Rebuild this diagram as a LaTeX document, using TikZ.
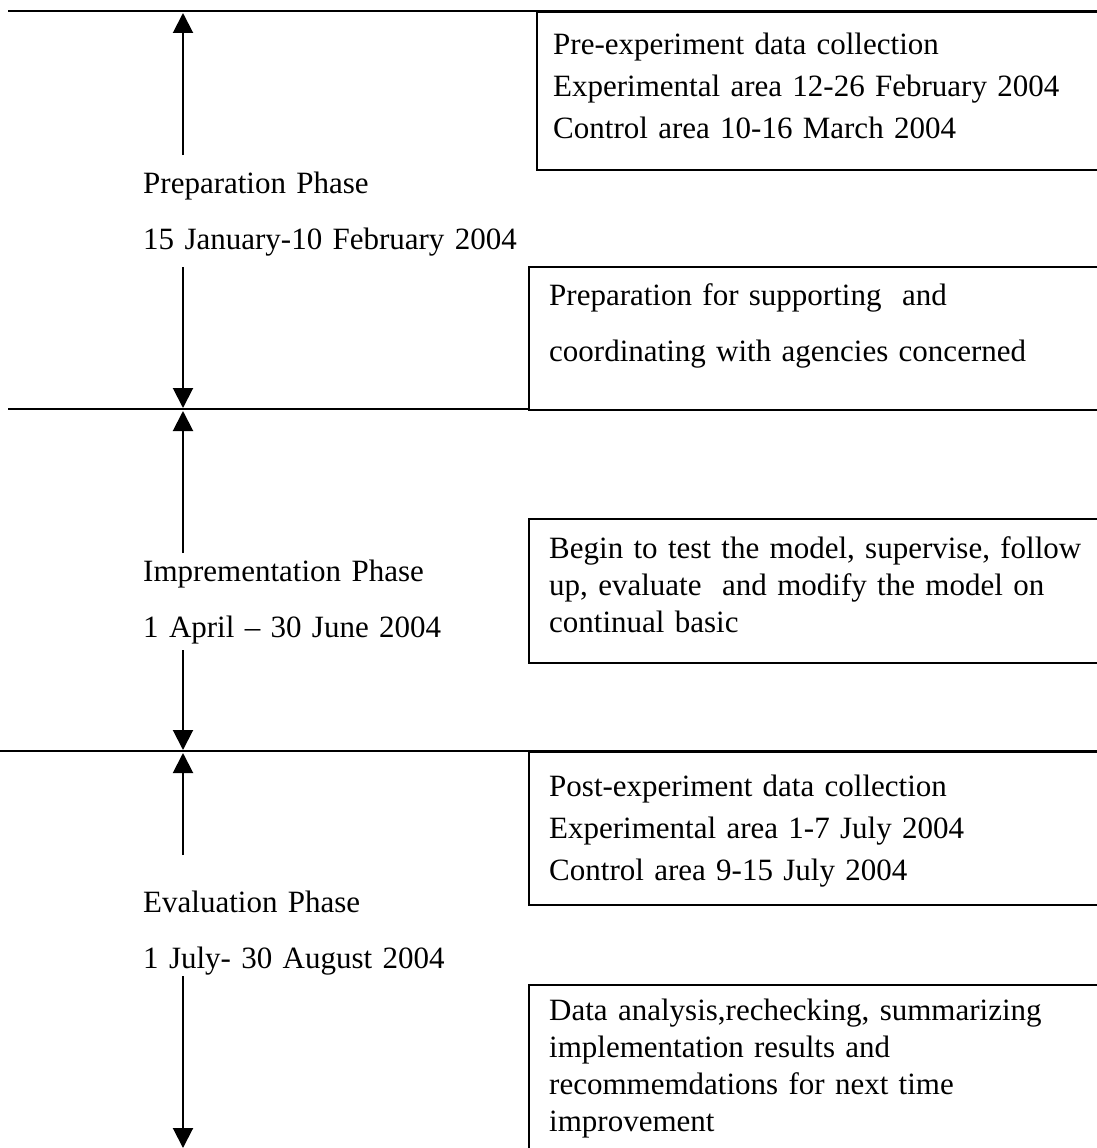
\documentclass[tikz,border=0pt]{standalone}
\usepackage{fontspec}
\setmainfont{Liberation Serif}
\usetikzlibrary{arrows.meta}
\begin{document}
\begin{tikzpicture}[x=1pt,y=-1pt,
  rule/.style={line width=2pt},
  stage/.style={draw, line width=2pt, rectangle, anchor=north west, inner sep=0pt, minimum width=620pt},
  arr/.style={line width=2pt, -{Triangle[length=20pt,width=20pt]}},
  boxtext/.style={anchor=base west, inner sep=0pt, align=left, text width=700pt},
  phasetext/.style={anchor=base west, inner sep=0pt, align=left, text width=420pt, font=\fontsize{31}{56}\selectfont}
]
\useasboundingbox (0,0) rectangle (1097,1148);
\clip (0,0) rectangle (1097,1148);

% horizontal phase separators
\coordinate (L1w) at (8,11);
\coordinate (L1e) at (1110,11);
\coordinate (L2w) at (8,409);
\coordinate (L3w) at (0,751);
\coordinate (L3e) at (1110,751);

% boxes
\node[stage, minimum height=158pt] (b1) at (536,11) {};
\node[stage, minimum height=143pt] (b2) at (528,266) {};
\node[stage, minimum height=144pt] (b3) at (528,518) {};
\node[stage, minimum height=153pt] (b4) at (528,751) {};
\node[stage, minimum height=190pt] (b5) at (528,984) {};

\draw[rule] (L1w) -- (L1e);
\draw[rule] (L2w) -- (L2w -| b2.west);
\draw[rule] (L3w) -- (L3e);

% box texts
\node[boxtext, font=\fontsize{31}{42}\selectfont] (t1) at (553,55)
  {Pre-experiment data collection\\Experimental area 12-26 February 2004\\Control area 10-16 March 2004};
\node[boxtext, font=\fontsize{31}{56}\selectfont] (t2) at (549,305)
  {Preparation for supporting~ and\\coordinating with agencies concerned};
\node[boxtext, font=\fontsize{31}{37}\selectfont] (t3) at (549,558)
  {Begin to test the model, supervise, follow\\up, evaluate~ and modify the model on\\continual basic};
\node[boxtext, font=\fontsize{31}{42}\selectfont] (t4) at (549,796)
  {Post-experiment data collection\\Experimental area 1-7 July 2004\\Control area 9-15 July 2004};
\node[boxtext, font=\fontsize{31}{37}\selectfont] (t5) at (549,1020)
  {Data analysis,rechecking, summarizing\\implementation results and\\recommemdations for next time\\improvement};

% phase labels
\node[phasetext] (p1) at (143,193) {Preparation Phase\\15 January-10 February 2004};
\node[phasetext] (p2) at (143,581) {Imprementation Phase\\1 April – 30 June 2004};
\node[phasetext] (p3) at (143,912) {Evaluation Phase\\1 July- 30 August 2004};

% arrow end points
\coordinate (a1s) at (183,155);  \coordinate (a1e) at (183,13);
\coordinate (a2s) at (183,267);  \coordinate (a2e) at (183,408);
\coordinate (a3s) at (183,553);  \coordinate (a3e) at (183,411);
\coordinate (a4s) at (183,650);  \coordinate (a4e) at (183,750);
\coordinate (a5s) at (183,855);  \coordinate (a5e) at (183,753);
\coordinate (a6s) at (183,976);  \coordinate (a6e) at (183,1148);

\draw[arr] (a1s) -- (a1e);
\draw[arr] (a2s) -- (a2e);
\draw[arr] (a3s) -- (a3e);
\draw[arr] (a4s) -- (a4e);
\draw[arr] (a5s) -- (a5e);
\draw[arr] (a6s) -- (a6e);
\end{tikzpicture}
\end{document}
